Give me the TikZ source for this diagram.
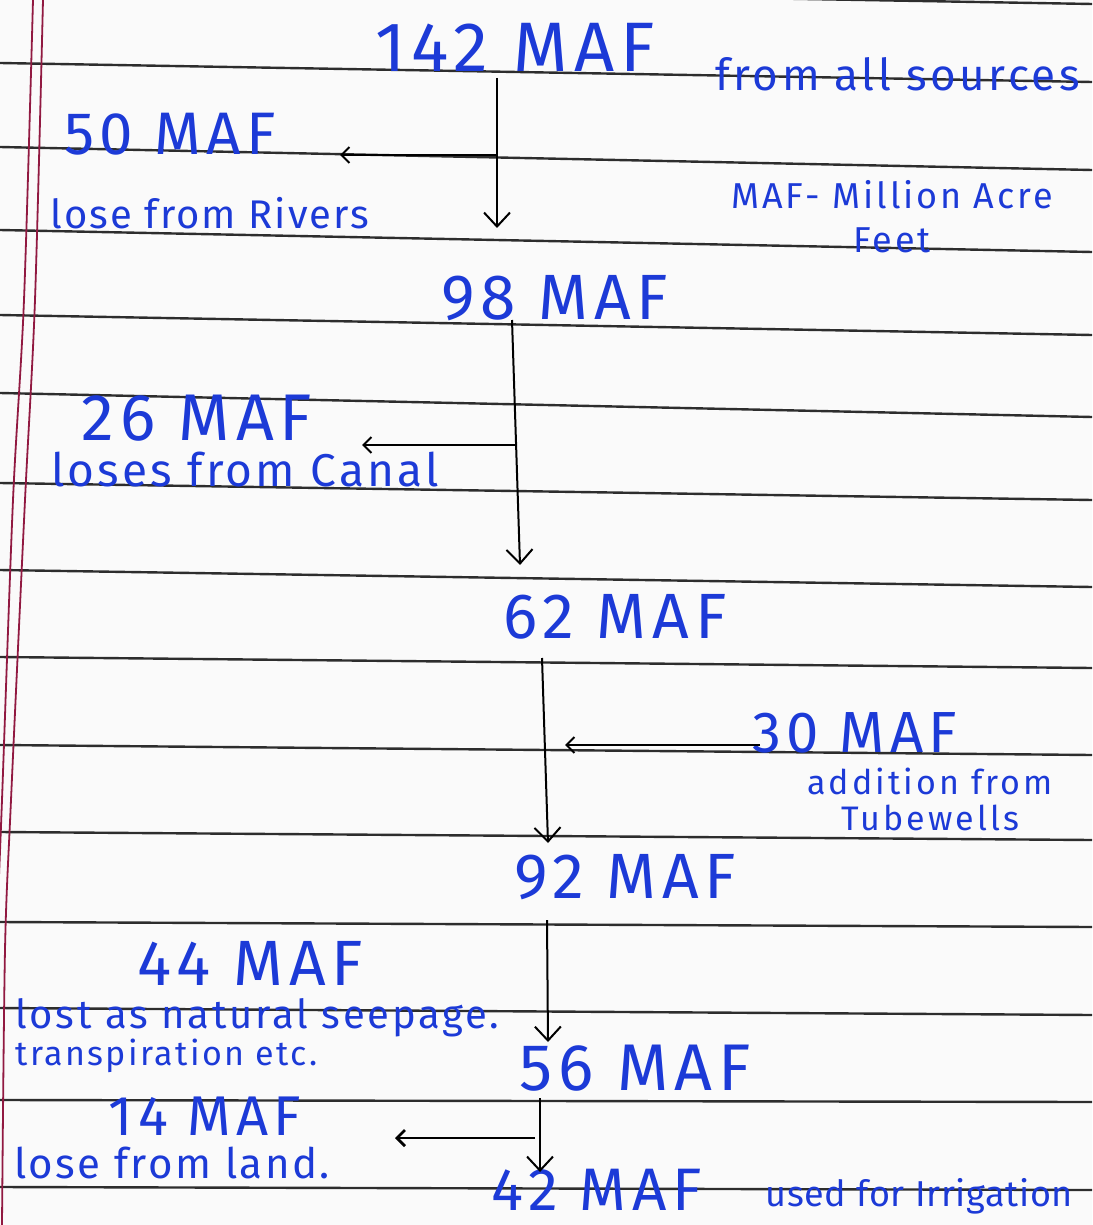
\documentclass[tikz,border=0pt]{standalone}
\usepackage{fontspec}
\setmainfont{Fira Sans}
\usepackage{xcolor}
\definecolor{InkBlue}{RGB}{28,58,215}
\definecolor{RuleGray}{RGB}{45,45,45}
\definecolor{MarginRed}{RGB}{145,25,65}
\definecolor{Paper}{RGB}{250,250,250}
\usetikzlibrary{arrows.meta}
\tikzset{
  % amounts in MAF
  amount/.style={text=InkBlue, inner sep=0pt, anchor=base, text depth=0pt,
    font=\fontsize{32}{36}\selectfont\addfontfeature{LetterSpace=9}},
  % small hand notes
  note/.style={text=InkBlue, inner sep=0pt, align=center,
    font=\fontsize{20}{23}\selectfont\addfontfeature{LetterSpace=7}},
  % arrows
  flow/.style={-{Straight Barb[length=7pt,width=13pt]}, line width=1pt, black},
  side/.style={-{Straight Barb[length=4pt,width=8pt]}, line width=1pt, black},
  % notebook paper
  rule/.style={line width=1.2pt, RuleGray},
  margin/.style={line width=0.9pt, MarginRed},
}

\begin{document}
\begin{tikzpicture}[x=0.5pt, y=-0.5pt]

  \fill[Paper] (0,0) rectangle (1092,1225);
  \useasboundingbox (0,0) rectangle (1092,1225);

  %% ruled lines and margin
  \foreach \yl/\yr in {-15/4, 63/82, 147/170, 230/252, 315/335, 393/417,
                       483/500, 570/587, 657/668, 745/755, 832/840,
                       922/927, 1008/1015, 1100/1102, 1187/1190}
    \draw[rule] (0,\yl) -- (1092,\yr);
  \draw[margin] plot[smooth] coordinates {(33,0) (24,300) (13,500) (2,800) (-2,900)};
  \draw[margin] plot[smooth] coordinates {(43,0) (35,300) (25,500) (11,800) (5,950) (2,1225)};

  %% amounts
  \node[amount, font=\fontsize{35}{40}\selectfont\addfontfeature{LetterSpace=9}] (n142) at (515,72) {142 MAF};
  \node[amount, font=\fontsize{30}{34}\selectfont\addfontfeature{LetterSpace=9}] (n50) at (170,155) {50 MAF};
  \node[amount] (n98) at (555,319) {98 MAF};
  \node[amount, font=\fontsize{33}{38}\selectfont\addfontfeature{LetterSpace=9}] (n26) at (197,440) {26 MAF};
  \node[amount] (n62) at (615,638) {62 MAF};
  \node[amount, font=\fontsize{29}{34}\selectfont\addfontfeature{LetterSpace=9}] (n30) at (855,752) {30 MAF};
  \node[amount] (n92) at (625,898) {92 MAF};
  \node[amount] (n44) at (250,985) {44 MAF};
  \node[amount, font=\fontsize{33}{38}\selectfont\addfontfeature{LetterSpace=9}] (n56) at (635,1090) {56 MAF};
  \node[amount, font=\fontsize{28}{32}\selectfont\addfontfeature{LetterSpace=9}] (n14) at (205,1135) {14 MAF};
  \node[amount, font=\fontsize{30}{36}\selectfont\addfontfeature{LetterSpace=10}] (n42) at (597,1210) {42 MAF};

  %% notes
  \node[note, font=\fontsize{22}{25}\selectfont\addfontfeature{LetterSpace=8}, anchor=west] (src) at (715,74) {from all sources};
  \node[note, font=\fontsize{20}{23}\selectfont\addfontfeature{LetterSpace=5}] (rivers) at (210,213) {lose from Rivers};
  \node[note, font=\fontsize{18}{22}\selectfont\addfontfeature{LetterSpace=8}] (unit) at (892,217) {MAF- Million Acre\\Feet};
  \node[note, font=\fontsize{23}{26}\selectfont\addfontfeature{LetterSpace=7}] (canal) at (245,470) {loses from Canal};
  \node[note, font=\fontsize{17}{18}\selectfont\addfontfeature{LetterSpace=9}] (tube) at (930,799) {addition from\\Tubewells};
  \node[note, align=left, anchor=west, font=\fontsize{20}{16}\selectfont\addfontfeature{LetterSpace=7}]
    (seep) at (15,1036) {lost as natural seepage.\\{\fontsize{17}{16}\selectfont transpiration etc.}};
  \node[note, font=\fontsize{21}{24}\selectfont\addfontfeature{LetterSpace=6}] (land) at (172,1163) {lose from land.};
  \node[note, font=\fontsize{18}{20}\selectfont\addfontfeature{LetterSpace=2}, anchor=west] (irr) at (765,1196) {used for Irrigation};

  %% arrow ends
  \coordinate (t1) at (497,78);   \coordinate (h1) at (497,228);
  \coordinate (b1) at (497,155);  \coordinate (e1) at (340,155);
  \coordinate (t2) at (512,320);  \coordinate (h2) at (520,565);
  \coordinate (b2) at (515,445);  \coordinate (e2) at (362,445);
  \coordinate (t3) at (542,658);  \coordinate (h3) at (548,843);
  \coordinate (b3) at (760,745);  \coordinate (e3) at (565,745);
  \coordinate (t4) at (547,920);  \coordinate (h4) at (548,1042);
  \coordinate (t5) at (540,1098); \coordinate (h5) at (540,1172);
  \coordinate (b5) at (535,1138); \coordinate (e5) at (395,1138);

  %% arrows
  \draw[flow] (t1) -- (h1);
  \draw[side] (b1) -- (e1);
  \draw[flow] (t2) -- (h2);
  \draw[side] (b2) -- (e2);
  \draw[flow] (t3) -- (h3);
  \draw[side] (b3) -- (e3);
  \draw[flow] (t4) -- (h4);
  \draw[flow] (t5) -- (h5);
  \draw[side, line width=1.4pt] (b5) -- (e5);

\end{tikzpicture}
\end{document}
